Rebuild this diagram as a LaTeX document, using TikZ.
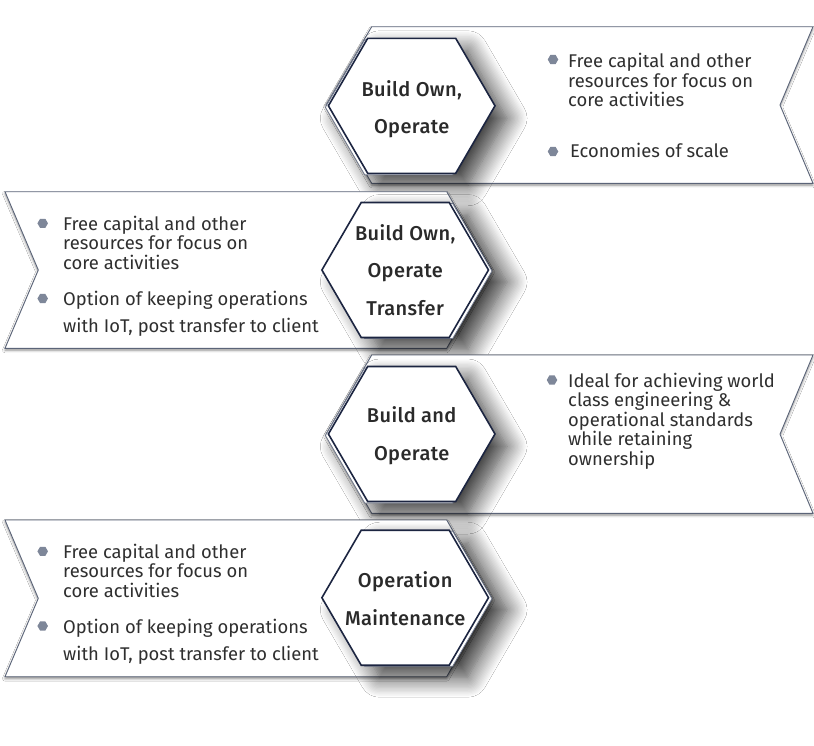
\documentclass[tikz,border=0pt]{standalone}
\usepackage{fontspec}
\setmainfont{Fira Sans}
\IfFontExistsTF{Fira Sans Medium}{\newfontfamily\hexfont{Fira Sans Medium}[LetterSpace=2]}{\newfontfamily\hexfont{Fira Sans}[FakeBold=1.2,LetterSpace=2]}
\usetikzlibrary{shadows.blur,shapes.geometric}
\definecolor{navy}{HTML}{1C2541}
\definecolor{bandline}{HTML}{5B6478}
\definecolor{bulletc}{HTML}{7E8799}
\definecolor{txt}{HTML}{2F2F2F}
\definecolor{hextxt}{HTML}{2A2A2A}
\definecolor{copyline}{HTML}{6E7689}
\newcommand\hexshape[2]{({#1-83.3},{#2}) -- ({#1-44},{#2-67.5}) -- ({#1+44},{#2-67.5}) -- ({#1+83.3},{#2}) -- ({#1+44},{#2+67.5}) -- ({#1-44},{#2+67.5}) -- cycle}
\newcommand\bandR[2]{(371.7,#1) -- (813,#1) -- (780,{(#1+#2)/2}) -- (813,#2) -- (371.7,#2) -- (326,{(#1+#2)/2}) -- cycle}
\newcommand\bandL[2]{(5,#1) -- (446.7,#1) -- (492,{(#1+#2)/2}) -- (446.7,#2) -- (5,#2) -- (38.3,{(#1+#2)/2}) -- cycle}
\tikzset{
  band/.style={draw=bandline, line width=0.9pt, fill=white,
    blur shadow={shadow xshift=0pt, shadow yshift=-2pt, shadow blur radius=2.5pt, shadow opacity=45}},
  hexbox/.style={draw=navy, line width=1.6pt, fill=white, line join=miter},
  hexcopy/.style={draw=copyline, line width=0.8pt, fill=white,
    blur shadow={shadow xshift=15pt, shadow yshift=-11pt, shadow blur radius=20pt, shadow opacity=80, shadow blur steps=16}},
  bul/.style={regular polygon, regular polygon sides=6, minimum size=10.5pt, inner sep=0pt, fill=bulletc},
  btxt/.style={anchor=base west, align=left, inner sep=0pt, text=txt, font=\fontsize{18.4}{19.5}\selectfont},
  htxt/.style={anchor=base, align=center, inner sep=0pt, text=hextxt, font=\hexfont\fontsize{20}{37.5}\selectfont}
}
\begin{document}
\begin{tikzpicture}[x=1pt,y=-1pt]
\useasboundingbox[fill=white] (0,0) rectangle (814,745);
% band 1
\path[band] \bandR{26.7}{183.3};
\path[hexcopy] \hexshape{408.7}{107.3};
\path[hexbox] \hexshape{411.7}{105.8};
\node[htxt] (h1) at (411.7,133.5) {Build Own,\\Operate};
\node[bul] (b11) at (553,59.5) {};
\node[btxt] (t11) at (568,106.7) {Free capital and other\\resources for focus on\\core activities};
\node[bul] (b12) at (553,151.5) {};
\node[btxt] (t12) at (570,157.5) {Economies of scale};
% band 2
\path[band] \bandL{191.7}{348.3};
\path[hexcopy] \hexshape{408.7}{271};
\path[hexbox] \hexshape{405.2}{270};
\node[htxt] (h2) at (405.2,315) {Build Own,\\Operate\\Transfer};
\node[bul] (b21) at (42.7,223.3) {};
\node[btxt] (t21) at (63,269) {Free capital and other\\resources for focus on\\core activities};
\node[bul] (b22) at (42.7,298.5) {};
\node[btxt] (t22) at (63,332.7) {Option of keeping operations\\[7.5pt]with IoT, post transfer to client};
% band 3
\path[band] \bandR{355}{513.3};
\path[hexcopy] \hexshape{408.7}{435.5};
\path[hexbox] \hexshape{411.7}{434};
\node[htxt] (h3) at (411.7,460.2) {Build and\\Operate};
\node[bul] (b31) at (552,380) {};
\node[btxt] (t31) at (568,465.3) {Ideal for achieving world\\class engineering \&\\operational standards\\while retaining\\ownership};
% band 4
\path[band] \bandL{520}{676.7};
\path[hexcopy] \hexshape{408.7}{598.7};
\path[hexbox] \hexshape{405.2}{597.7};
\node[htxt] (h4) at (405.2,625.2) {Operation\\Maintenance};
\node[bul] (b41) at (42.7,551.3) {};
\node[btxt] (t41) at (63,597.3) {Free capital and other\\resources for focus on\\core activities};
\node[bul] (b42) at (42.7,626) {};
\node[btxt] (t42) at (63,660.3) {Option of keeping operations\\[7.5pt]with IoT, post transfer to client};
\end{tikzpicture}
\end{document}
